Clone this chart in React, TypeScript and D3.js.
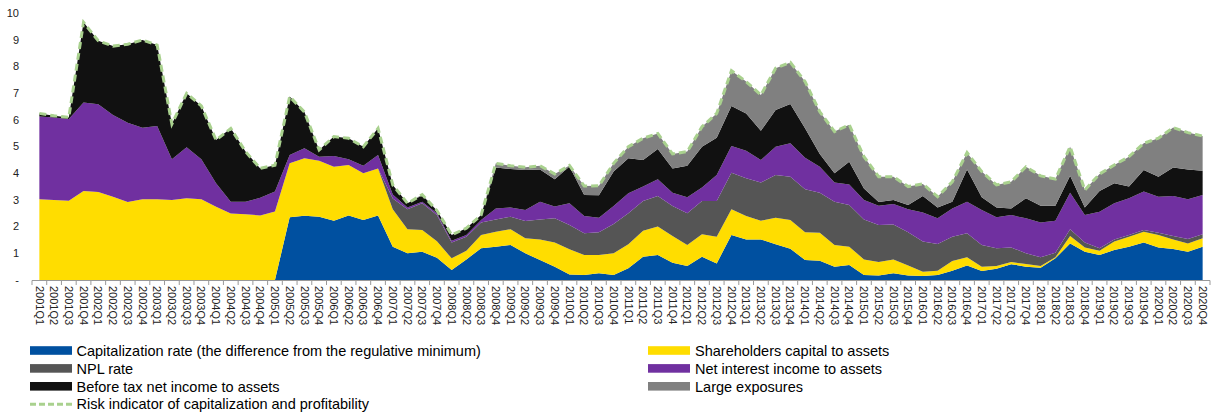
import React from "react";
import * as d3 from "d3";

const quarters: string[] = [];
for (let yr = 2001; yr <= 2020; yr++) for (let q = 1; q <= 4; q++) quarters.push(`${yr}Q${q}`);

// cumulative tops
const blueTop = [0,0,0,0,0,0,0,0,0,0,0,0,0,0,0,0,0,2.35,2.41,2.37,2.22,2.42,2.25,2.42,1.25,1.0,1.06,0.83,0.37,0.77,1.19,1.25,1.31,1.0,0.75,0.5,0.21,0.19,0.25,0.19,0.44,0.87,0.94,0.65,0.52,0.87,0.62,1.69,1.52,1.52,1.34,1.17,0.75,0.72,0.5,0.56,0.19,0.17,0.25,0.17,0.15,0.19,0.35,0.54,0.34,0.42,0.59,0.5,0.46,0.81,1.37,1.06,0.94,1.12,1.25,1.4,1.22,1.16,1.06,1.25];
const yellowTop = [3.02,3.0,2.97,3.33,3.3,3.12,2.92,3.02,3.02,3.0,3.06,3.02,2.74,2.49,2.46,2.42,2.57,4.37,4.56,4.47,4.24,4.31,4.0,4.18,2.65,1.9,1.87,1.45,0.81,1.1,1.69,1.81,1.9,1.56,1.52,1.4,1.15,0.94,0.94,1.0,1.34,1.84,2.0,1.65,1.31,1.71,1.62,2.65,2.4,2.22,2.33,2.25,1.79,1.77,1.31,1.25,0.77,0.67,0.77,0.54,0.31,0.35,0.71,0.85,0.5,0.52,0.67,0.6,0.52,0.85,1.65,1.22,1.1,1.44,1.62,1.81,1.69,1.52,1.37,1.56];
const nplTop = [3.02,3.0,2.97,3.33,3.3,3.12,2.92,3.02,3.02,3.0,3.06,3.02,2.74,2.49,2.46,2.42,2.57,4.37,4.56,4.47,4.24,4.31,4.0,4.18,3.05,2.65,2.87,2.43,1.4,1.62,2.15,2.27,2.37,2.21,2.27,2.31,2.06,1.75,1.79,2.1,2.5,2.96,3.15,2.77,2.5,2.96,2.96,4.02,3.81,3.65,3.93,3.87,3.4,3.27,2.93,2.81,2.27,2.06,2.08,1.79,1.44,1.35,1.62,1.75,1.31,1.19,1.22,1.0,0.85,1.02,1.9,1.4,1.19,1.52,1.69,1.87,1.77,1.65,1.54,1.71];
const purpleTop = [6.12,6.09,6.03,6.65,6.58,6.18,5.89,5.7,5.77,4.52,4.97,4.52,3.62,2.93,2.93,3.08,3.31,4.68,4.93,4.62,4.64,4.52,4.28,4.68,3.2,2.72,2.93,2.5,1.47,1.69,2.25,2.68,2.72,2.62,2.93,2.75,2.87,2.4,2.33,2.77,3.25,3.5,3.77,3.27,3.1,3.46,3.93,5.02,4.84,4.49,4.99,5.12,4.58,4.24,3.65,3.58,3.0,2.78,2.85,2.65,2.53,2.31,2.68,2.93,2.62,2.35,2.43,2.31,2.15,2.22,3.27,2.43,2.56,2.87,3.06,3.31,3.12,3.15,3.02,3.18];
const blackTop = [6.24,6.15,6.09,9.65,8.96,8.76,8.83,8.99,8.8,5.84,6.99,6.52,5.24,5.68,4.81,4.18,4.3,6.87,6.29,4.87,5.37,5.31,4.99,5.68,3.56,2.87,3.17,2.6,1.69,1.94,2.43,4.21,4.16,4.12,4.14,3.77,4.25,3.18,3.17,4.06,4.56,4.49,4.91,4.18,4.28,4.99,5.33,6.52,6.24,5.59,6.37,6.59,5.68,4.72,4.0,4.43,3.43,2.92,3.0,2.81,3.15,2.72,2.93,4.14,3.1,2.72,2.68,3.06,2.78,2.78,3.9,2.72,3.33,3.62,3.5,4.12,3.87,4.21,4.14,4.09];
const totalTop = [6.24,6.15,6.09,9.65,8.96,8.76,8.83,8.99,8.8,5.84,6.99,6.52,5.24,5.68,4.81,4.18,4.3,6.87,6.29,4.87,5.37,5.31,4.99,5.68,3.56,2.87,3.2,2.6,1.69,1.94,2.43,4.37,4.28,4.22,4.28,3.97,4.29,3.52,3.53,4.37,4.99,5.31,5.49,4.72,4.81,5.74,6.24,7.84,7.43,6.93,7.93,8.15,7.43,6.3,5.56,5.81,4.62,3.87,3.87,3.5,3.6,3.12,3.68,4.77,4.06,3.56,3.68,4.24,3.9,3.78,4.99,3.37,3.97,4.31,4.62,5.12,5.31,5.71,5.52,5.39];

const r2 = (v: number) => Math.round(v * 100) / 100;
const capitalization = blueTop;
const shareholders = yellowTop.map((v, i) => r2(v - blueTop[i]));
const npl = nplTop.map((v, i) => r2(v - yellowTop[i]));
const netInterest = purpleTop.map((v, i) => r2(v - nplTop[i]));
const beforeTax = blackTop.map((v, i) => r2(v - purpleTop[i]));
const largeExposures = totalTop.map((v, i) => r2(v - blackTop[i]));

const yTicks = [0, 1, 2, 3, 4, 5, 6, 7, 8, 9, 10];

const seriesDefs = [
  { key: "cap", name: "Capitalization rate (the difference from the regulative minimum)", color: "#0050A0", values: capitalization },
  { key: "sh", name: "Shareholders capital to assets", color: "#FFDD00", values: shareholders },
  { key: "npl", name: "NPL rate", color: "#555555", values: npl },
  { key: "nii", name: "Net interest income to assets", color: "#7030A0", values: netInterest },
  { key: "bt", name: "Before tax net income to assets", color: "#111111", values: beforeTax },
  { key: "le", name: "Large exposures", color: "#808080", values: largeExposures },
];

export default function App() {
  const W = 1213, H = 417;
  const x = d3.scaleBand<string>().domain(quarters).range([32, 1210]).padding(0);
  const cx = (q: string) => (x(q) as number) + x.bandwidth() / 2;
  const y = d3.scaleLinear().domain([0, 10]).range([280, 13]);

  const rows = quarters.map((q, i) => {
    const o: any = { q };
    seriesDefs.forEach((s) => (o[s.key] = Math.max(0, s.values[i])));
    return o;
  });
  const stack = d3.stack<any>().keys(seriesDefs.map((s) => s.key));
  const layers = stack(rows);
  const area = d3
    .area<any>()
    .x((d) => cx(d.data.q))
    .y0((d) => y(d[0]))
    .y1((d) => y(d[1]));
  const totals = rows.map((r) => seriesDefs.reduce((a, s) => a + r[s.key], 0));
  const line = d3
    .line<number>()
    .x((_, i) => cx(quarters[i]))
    .y((d) => y(d));

  const font = "'Liberation Sans', Arial, sans-serif";
  const legendLeft = [seriesDefs[0], seriesDefs[2], seriesDefs[4]];
  const legendRight = [seriesDefs[1], seriesDefs[3], seriesDefs[5]];
  const rowY = (r: number) => 350.5 + 17.9 * r;

  return (
    <svg width={W} height={H} style={{ position: "absolute", left: 0, top: 0, background: "#fff" }} fontFamily={font}>
      {layers.map((l, li) => (
        <path key={li} d={area(l as any) || ""} fill={seriesDefs[li].color} stroke="none" />
      ))}
      <path d={line(totals) || ""} fill="none" stroke="#A9D18E" strokeWidth={3} strokeDasharray="7,4" />
      <line x1={32} x2={1210} y1={280.5} y2={280.5} stroke="#999" strokeWidth={1} />
      {d3.range(quarters.length + 1).map((i) => {
        const xx = 32 + x.bandwidth() * i;
        return <line key={i} x1={xx} x2={xx} y1={280.5} y2={285} stroke="#999" strokeWidth={1} />;
      })}
      {yTicks.map((t) => (
        <text key={t} x={19} y={y(t)} dy="0.35em" textAnchor="end" fontSize={11} fill="#222">
          {t === 0 ? "-" : t}
        </text>
      ))}
      {quarters.map((q) => (
        <text key={q} transform={`translate(${cx(q)},286) rotate(90)`} dy="0.35em" textAnchor="start" fontSize={11} fill="#222">
          {q}
        </text>
      ))}
      {legendLeft.map((s, r) => (
        <g key={s.key}>
          <rect x={30} y={rowY(r) - 4.3} width={42} height={8.6} fill={s.color} />
          <text x={76.5} y={rowY(r)} dy="0.36em" fontSize={14.5} fill="#000">{s.name}</text>
        </g>
      ))}
      <line x1={30} x2={72} y1={rowY(3)} y2={rowY(3)} stroke="#A9D18E" strokeWidth={3} strokeDasharray="6,3" />
      <text x={76.5} y={rowY(3)} dy="0.36em" fontSize={14.5} fill="#000">Risk indicator of capitalization and profitability</text>
      {legendRight.map((s, r) => (
        <g key={s.key}>
          <rect x={648} y={rowY(r) - 4.3} width={42} height={8.6} fill={s.color} />
          <text x={695} y={rowY(r)} dy="0.36em" fontSize={14.5} fill="#000">{s.name}</text>
        </g>
      ))}
    </svg>
  );
}
